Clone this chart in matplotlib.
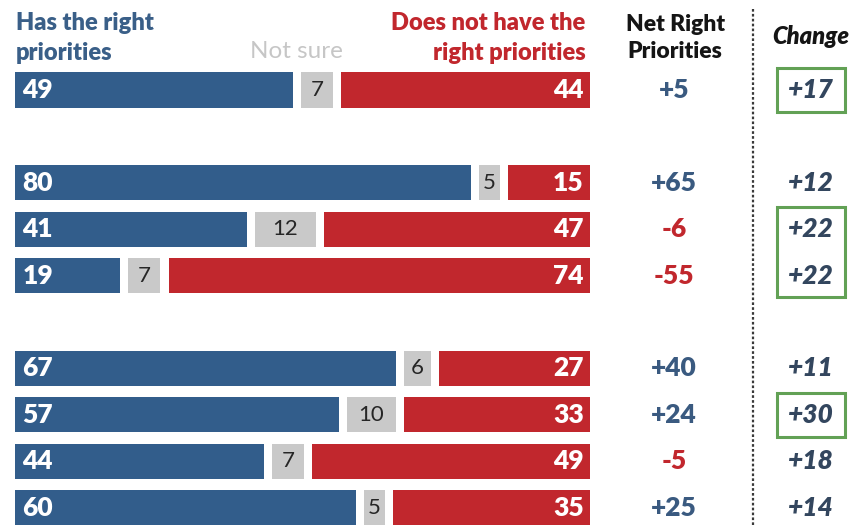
import matplotlib.pyplot as plt
from matplotlib.patches import Rectangle

plt.rcParams['font.family'] = ['Lato', 'DejaVu Sans']

# data
has_right = [49, 80, 41, 19, 67, 57, 44, 60]
not_sure = [7, 5, 12, 7, 6, 10, 7, 5]
not_right = [44, 15, 47, 74, 27, 33, 49, 35]
net_right = ['+5', '+65', '-6', '-55', '+40', '+24', '-5', '+25']
change = ['+17', '+12', '+22', '+22', '+11', '+30', '+18', '+14']
boxes = [(0, 0), (2, 3), (5, 5)]   # first/last row of each green box
rows = [0, 2, 3, 4, 6, 7, 8, 9]

BLUE = '#325d8b'
RED = '#c1272d'
GRAY = '#c9c9c9'
GREEN = '#62a155'
HALF_GAP = 0.7
H = 0.755

fig = plt.figure(figsize=(8.52, 5.25), dpi=100)
ax = fig.add_axes([0, 0, 1, 1])
ax.set_xlim(-2.61, 145.57)
ax.set_ylim(9.375, -1.94)
ax.axis('off')

net_x = 114.6
div_x = 128.35
chg_x = 138.4

for i, y in enumerate(rows):
    b, g, r = has_right[i], not_sure[i], not_right[i]
    ax.barh(y, b - HALF_GAP, left=0, height=H, color=BLUE)
    ax.barh(y, g - 2 * HALF_GAP, left=b + HALF_GAP, height=H, color=GRAY)
    ax.barh(y, r - HALF_GAP, left=b + g + HALF_GAP, height=H, color=RED)
    ax.text(1.3, y, str(b), color='white', fontsize=19, fontweight='heavy',
            va='center', ha='left')
    ax.text(b + g / 2, y, str(g), color='#262626', fontsize=16,
            va='center', ha='center')
    ax.text(98.9, y, str(r), color='white', fontsize=19,
            fontweight='heavy', va='center', ha='right')

    col = RED if net_right[i].startswith('-') else '#3a5a80'
    ax.text(net_x, y, net_right[i], color=col, fontsize=19, fontweight='heavy',
            va='center', ha='center')
    ax.text(chg_x, y, change[i], color='#33465e', fontsize=19, fontweight='heavy',
            style='italic', va='center', ha='center')

for first, last in boxes:
    top = rows[first] - 0.47
    bottom = rows[last] + 0.47
    ax.add_patch(Rectangle((chg_x - 5.9, top), 11.8, bottom - top, fill=False,
                           edgecolor=GREEN, linewidth=2.2))

# divider
ax.plot([div_x, div_x], [-1.75, 9.375], color='#3a3a3a', linestyle=(0, (1.2, 1.0)),
        linewidth=1.6)

# headers
ax.text(0.2, -1.12, 'Has the right\npriorities', color='#3a5f88', fontsize=17,
        fontweight='heavy', ha='left', va='center', linespacing=1.45)
ax.text(48.9, -0.84, 'Not sure', color='#c6c6c6', fontsize=17.5,
        ha='center', va='center')
ax.text(99.2, -1.12, 'Does not have the\nright priorities', color=RED, fontsize=17,
        fontweight='heavy', ha='right', va='center', linespacing=1.45)
ax.text(net_x + 0.2, -1.12, 'Net Right\nPriorities', color='#151515', fontsize=16.5,
        fontweight='heavy', ha='center', va='center', linespacing=1.4)
ax.text(chg_x, -1.16, 'Change', color='#151515', fontsize=17,
        fontweight='heavy', style='italic', ha='center', va='center')

fig.savefig('out.png', dpi=100)
